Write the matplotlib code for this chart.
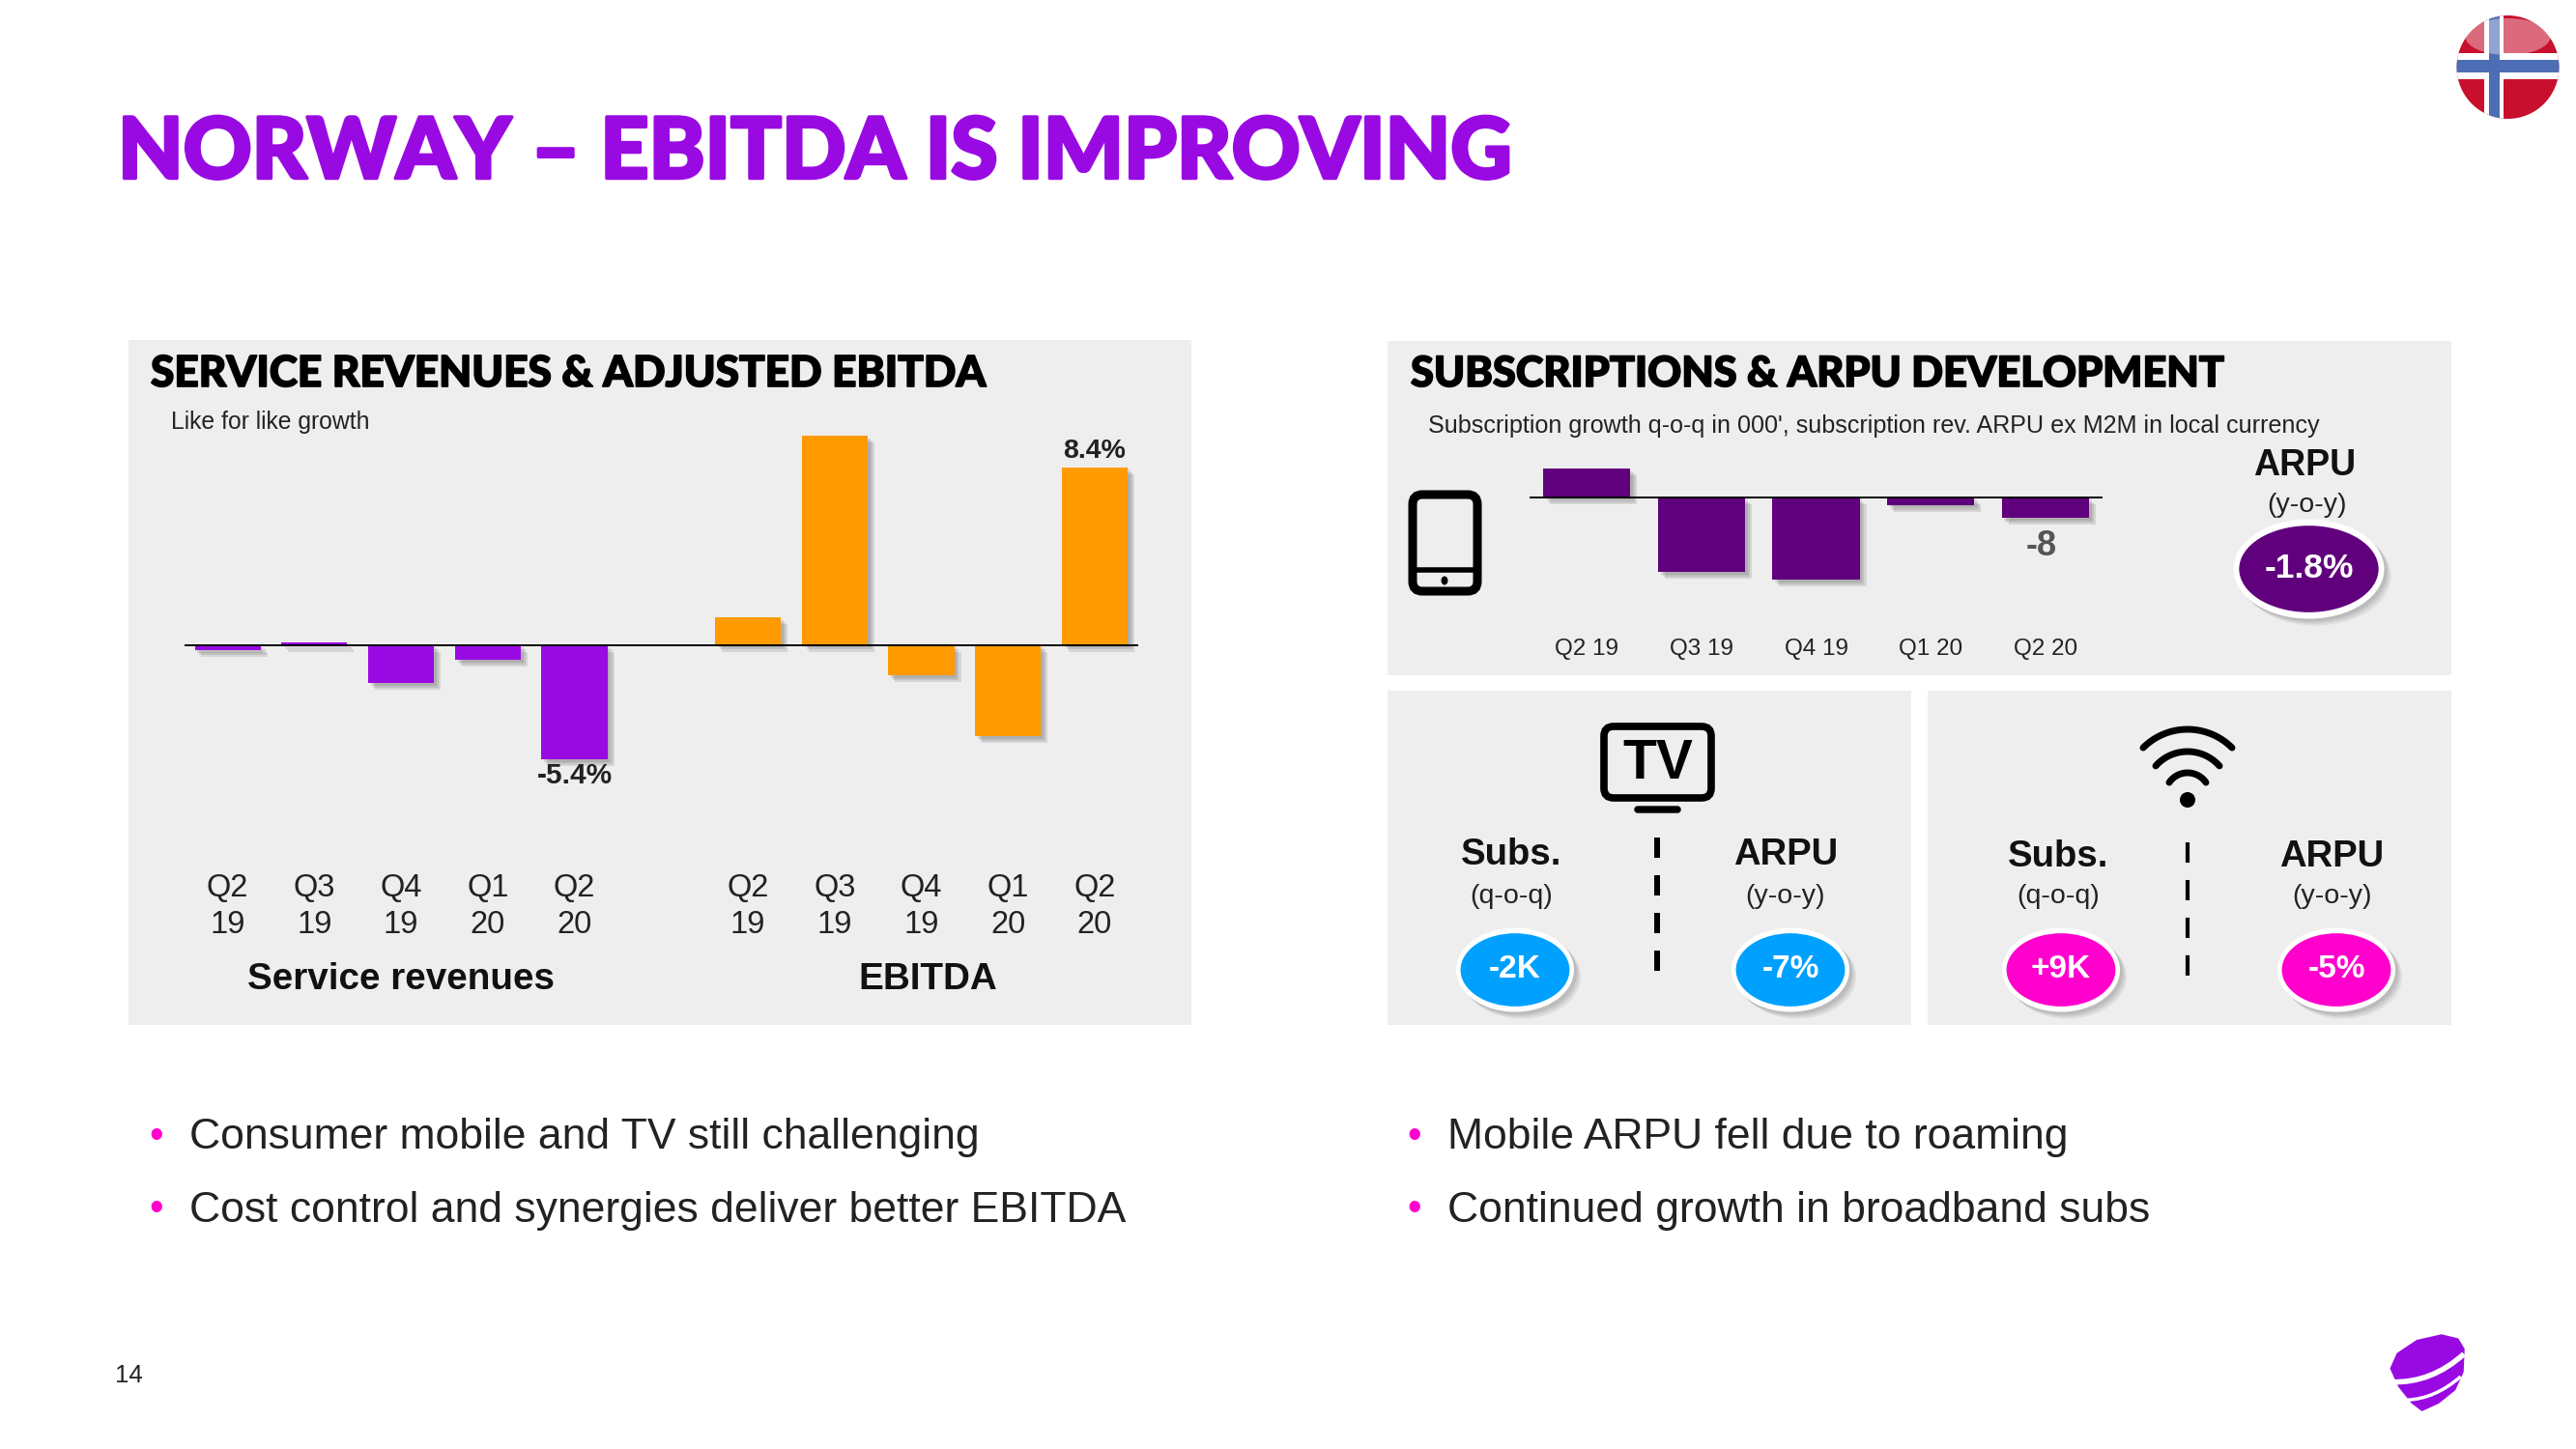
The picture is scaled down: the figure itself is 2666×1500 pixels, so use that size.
import numpy as np
import matplotlib
matplotlib.use('Agg')
import matplotlib.pyplot as plt
import matplotlib.patheffects as pe
from matplotlib.patches import Rectangle, Ellipse, FancyBboxPatch, Polygon, PathPatch
from matplotlib.path import Path

W, H = 2666, 1500
PURPLE = '#990AE3'
DARK = '#61007D'
ORANGE = '#FF9B00'
BLUE = '#00A0FF'
PINK = '#FF00CD'
PANEL = '#EEEEEE'
TEXT = '#222222'

# values
service_rev = [-0.25, 0.12, -1.8, -0.7, -5.4]
ebitda = [1.3, 9.9, -1.45, -4.3, 8.4]
quarters_wrapped = ['Q2\n19', 'Q3\n19', 'Q4\n19', 'Q1\n20', 'Q2\n20']
mobile_subs = [11, -29, -32, -3, -8]
quarters = ['Q2 19', 'Q3 19', 'Q4 19', 'Q1 20', 'Q2 20']
bullets_left = ['Consumer mobile and TV still challenging', 'Cost control and synergies deliver better EBITDA']
bullets_right = ['Mobile ARPU fell due to roaming', 'Continued growth in broadband subs']

plt.rcParams['font.family'] = ['Liberation Sans', 'DejaVu Sans']
HEAD = ['Lato', 'DejaVu Sans']

fig = plt.figure(figsize=(W / 100, H / 100), dpi=100, facecolor='white')
bg = fig.add_axes([0, 0, 1, 1], zorder=0)
bg.set_xlim(0, W)
bg.set_ylim(H, 0)
bg.axis('off')


def px_axes(x0, x1, y0, y1):
    a = fig.add_axes([x0 / W, 1 - y1 / H, (x1 - x0) / W, (y1 - y0) / H], zorder=2)
    a.patch.set_alpha(0)
    for s in a.spines.values():
        s.set_visible(False)
    a.set_yticks([])
    a.tick_params(axis='x', length=0)
    return a


def bar_shadow():
    return [pe.SimplePatchShadow(offset=(o, -o), shadow_rgbFace='#555555', alpha=0.16) for o in (5, 3.5, 2)] + [pe.Normal()]


def txt(x, y, s, size, **kw):
    kw.setdefault('ha', 'center')
    kw.setdefault('va', 'center')
    kw.setdefault('color', TEXT)
    return bg.text(x, y, s, fontsize=size, **kw)


def heading(x, y, s, size, color, stroke):
    t = txt(x, y, s, size, ha='left', color=color, family=HEAD, weight='black')
    t.set_path_effects([pe.withStroke(linewidth=stroke, foreground=color)])


def bubble(x, y, w, h, color, label, size=24):
    for o, a in ((7, 0.10), (5, 0.12), (3, 0.14)):
        bg.add_patch(Ellipse((x + o, y + o), w, h, fc='#555555', ec='none', alpha=a))
    bg.add_patch(Ellipse((x, y), w, h, fc='white', ec='none'))
    bg.add_patch(Ellipse((x, y), w * 0.925, h * 0.87, fc=color, ec='none'))
    txt(x, y, label, size, color='white', weight='bold')


# panels
bg.add_patch(Rectangle((133, 352), 1100, 709, fc=PANEL, ec='none'))
bg.add_patch(Rectangle((1436, 353), 1101, 346, fc=PANEL, ec='none'))
bg.add_patch(Rectangle((1436, 715), 542, 346, fc=PANEL, ec='none'))
bg.add_patch(Rectangle((1995, 715), 542, 346, fc=PANEL, ec='none'))

# titles
heading(122, 159, 'NORWAY – EBITDA IS IMPROVING', 63, PURPLE, 2.5)
heading(156, 387, 'SERVICE REVENUES & ADJUSTED EBITDA', 31.8, 'black', 1.2)
heading(1460, 387, 'SUBSCRIPTIONS & ARPU DEVELOPMENT', 31.2, 'black', 1.2)
txt(177, 437, 'Like for like growth', 17.8, ha='left')
txt(1478, 441, "Subscription growth q-o-q in 000', subscription rev. ARPU ex M2M in local currency", 18.1, ha='left')

# left chart
base_y, unit = 667.6, 21.9
ax = px_axes(190.75, 1177.85, 440, 900)
ax.set_xlim(-0.5, 10.5)
ax.set_ylim((base_y - 900) / unit, (base_y - 440) / unit)
pos_sr = np.arange(5)
pos_eb = np.arange(5) + 6
for b in ax.bar(pos_sr, service_rev, width=0.76, color=PURPLE):
    b.set_path_effects(bar_shadow())
for b in ax.bar(pos_eb, ebitda, width=0.76, color=ORANGE):
    b.set_path_effects(bar_shadow())
ax.axhline(0, color='black', lw=1.4, zorder=5)
ax.set_xticks(list(pos_sr) + list(pos_eb), quarters_wrapped * 2, fontsize=23.5, color=TEXT, linespacing=1.3)
ax.tick_params(axis='x', pad=3)
ax.annotate('%.1f%%' % service_rev[4], (pos_sr[4], service_rev[4]), xytext=(0, -12.5), textcoords='offset points',
            ha='center', va='center', fontsize=21.5, weight='bold', color=TEXT)
ax.annotate('%.1f%%' % ebitda[4], (pos_eb[4], ebitda[4]), xytext=(0, 12), textcoords='offset points',
            ha='center', va='center', fontsize=20.5, weight='bold', color=TEXT)
txt(415, 1014, 'Service revenues', 27.8, weight='bold', color='#111111')
txt(960, 1014, 'EBITDA', 27.8, weight='bold', color='#111111')

# mobile chart
base_y2, unit2 = 514.7, 2.667
ax2 = px_axes(1583, 2176, 470, 650)
ax2.set_xlim(-0.5, 4.5)
ax2.set_ylim((base_y2 - 650) / unit2, (base_y2 - 470) / unit2)
for b in ax2.bar(range(5), mobile_subs, width=0.76, color=DARK):
    b.set_path_effects(bar_shadow())
ax2.axhline(0, color='black', lw=1.4, zorder=5)
ax2.set_xticks(range(5), quarters, fontsize=17.5, color=TEXT)
ax2.tick_params(axis='x', pad=8)
ax2.annotate('%d' % mobile_subs[4], (4, mobile_subs[4]), xytext=(-3, -21), textcoords='offset points',
             ha='center', va='center', fontsize=26, weight='bold', color='#555555')

# phone icon
bg.add_patch(FancyBboxPatch((1462, 512), 67, 100, boxstyle='round,pad=0,rounding_size=10', fc='none', ec='black', lw=6.5))
bg.plot([1462, 1529], [590, 590], color='black', lw=4, solid_capstyle='butt')
bg.add_patch(Ellipse((1495, 601), 7, 9, fc='black', ec='none'))

txt(2385, 482, 'ARPU', 27, weight='bold', color='#111111')
txt(2387, 523, '(y-o-y)', 20.5)
bubble(2389.5, 589, 156, 103, DARK, '-1.8%', 25.5)

# tv icon
bg.add_patch(FancyBboxPatch((1660, 752), 111, 74, boxstyle='round,pad=0,rounding_size=10', fc='none', ec='black', lw=5.5))
bg.add_patch(FancyBboxPatch((1692, 835), 47, 6, boxstyle='round,pad=0,rounding_size=3', fc='black', ec='black', lw=1))
txt(1716, 791, 'TV', 41, weight='bold', color='black')

# wifi icon
cx = 2264
for top, r, half in ((755, 65, 46), (778, 44, 33), (800, 23, 19)):
    t = np.linspace(np.arcsin(np.sqrt(1 - (half / r) ** 2)), np.pi - np.arcsin(np.sqrt(1 - (half / r) ** 2)), 30)
    bg.plot(cx + r * np.cos(t), top + r - r * np.sin(t), color='black', lw=5, solid_capstyle='round')
bg.add_patch(Ellipse((cx, 828), 16, 16, fc='black', ec='none'))

# dashed dividers
bg.plot([1714.5, 1714.5], [867, 1007], color='black', lw=4.3, dashes=(21 / 5.97, 18 / 5.97), dash_capstyle='butt')
bg.plot([2264, 2264], [872, 1012], color='black', lw=3, dashes=(21 / 4.17, 18 / 4.17), dash_capstyle='butt')

for x, y1, lab, sub in ((1564, 885, 'Subs.', '(q-o-q)'), (1848, 885, 'ARPU', '(y-o-y)'),
                        (2130, 887, 'Subs.', '(q-o-q)'), (2413, 887, 'ARPU', '(y-o-y)')):
    txt(x, y1, lab, 27.5, weight='bold', color='#111111')
    txt(x, 928, sub, 20.5)

bubble(1568, 1004, 122, 87, BLUE, '-2K')
bubble(1853, 1004, 122, 87, BLUE, '-7%')
bubble(2133, 1004, 122, 87, PINK, '+9K')
bubble(2418, 1004, 122, 87, PINK, '-5%')

# bullets
for i, s in enumerate(bullets_left):
    txt(162, 1177 + 75 * i, '•', 30, color=PINK)
    txt(196, 1178 + 75 * i, s, 32, ha='left')
for i, s in enumerate(bullets_right):
    txt(1464, 1177 + 75 * i, '•', 30, color=PINK)
    txt(1498, 1178 + 75 * i, s, 32, ha='left')

txt(119, 1424, '14', 18.5, ha='left')

# flag
disc = Ellipse((2595.5, 69.5), 106, 107, fc='#C8102E', ec='none')
bg.add_patch(disc)
for r in (Rectangle((2571, 10), 20, 124, fc='white', ec='none'), Rectangle((2535, 55), 118, 27, fc='white', ec='none'),
          Rectangle((2576, 10), 11, 124, fc='#4D6DB5', ec='none'), Rectangle((2535, 62), 118, 13, fc='#4D6DB5', ec='none')):
    bg.add_patch(r)
    r.set_clip_path(disc)
bg.add_patch(Ellipse((2595.5, 38), 88, 38, fc='white', ec='none', alpha=0.38))

# logo
logo = np.array([(105, 170), (125, 125), (185, 85), (260, 68), (310, 80), (328, 110), (325, 180), (300, 235),
                 (250, 275), (200, 298), (170, 275), (130, 225)]) / 3 + [2440, 1360]
bg.add_patch(Polygon(logo, closed=True, fc=PURPLE, ec=PURPLE, lw=2, joinstyle='round'))
for pts, lw in (([(108, 212), (230, 215), (330, 125)], 4), ([(150, 268), (240, 265), (320, 195)], 2.5)):
    p = np.array(pts) / 3 + [2440, 1360]
    bg.add_patch(PathPatch(Path(p, [Path.MOVETO, Path.CURVE3, Path.CURVE3]), fc='none', ec='white', lw=lw))

fig.savefig('out.png', dpi=100, facecolor='white')
